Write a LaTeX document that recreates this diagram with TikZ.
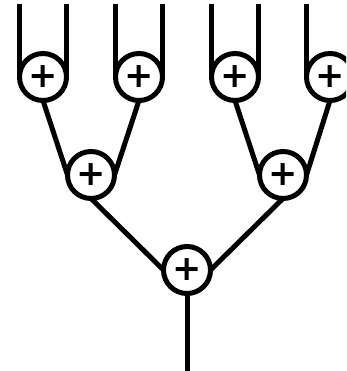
\documentclass[tikz,border=0pt]{standalone}
\usepackage{fontspec}
\setmainfont{DejaVu Sans}
\usetikzlibrary{calc}
\begin{document}
\begin{tikzpicture}[x=1pt,y=1pt,
  adder/.style={circle,draw,line width=5pt,minimum size=47pt,inner sep=0pt,outer sep=0pt,
    font=\bfseries\fontsize{35}{35}\selectfont},
  wire/.style={line width=5pt}]
\clip (0,0) rectangle (346,371);
% level 1
\node[adder] (a1) at (43,294) {+};
\node[adder] (a2) at (139,294) {+};
\node[adder] (a3) at (235,294) {+};
\node[adder] (a4) at (330,294) {+};
% level 2
\node[adder] (b1) at (91,196) {+};
\node[adder] (b2) at (283,196) {+};
% level 3
\node[adder] (c1) at (187,101) {+};
% inputs
\foreach \n in {a1,a2,a3,a4}{
  \coordinate (\n l) at ($(\n.west)+(0,73)$);
  \coordinate (\n r) at ($(\n.east)+(0,73)$);
  \draw[wire] (\n l) -- (\n.west);
  \draw[wire] (\n r) -- (\n.east);
}
\coordinate (out) at (187,0);
\draw[wire] (a1.south) -- (b1.west);
\draw[wire] (a2.south) -- (b1.east);
\draw[wire] (a3.south) -- (b2.west);
\draw[wire] (a4.south) -- (b2.east);
\draw[wire] (b1.south) -- (c1.west);
\draw[wire] (b2.south) -- (c1.east);
\draw[wire] (c1.south) -- (out);
\end{tikzpicture}
\end{document}
